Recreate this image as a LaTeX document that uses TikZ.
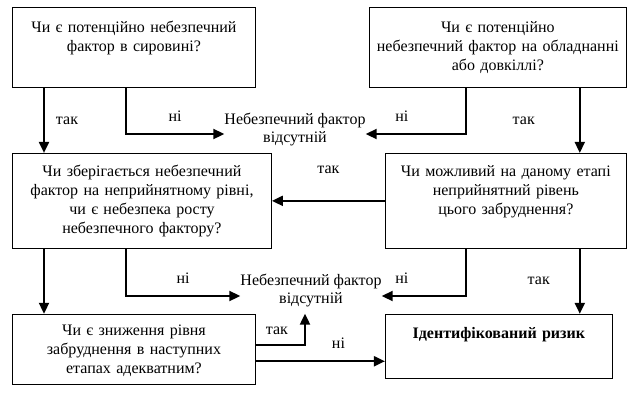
\documentclass[tikz,border=0pt]{standalone}
\usepackage{fontspec}
\setmainfont{Liberation Serif}
\usepackage{tikz}
\usetikzlibrary{arrows.meta, positioning}

\newcommand{\boxfont}{\fontsize{16}{19}\selectfont}

\begin{document}
\begin{tikzpicture}[node distance=65pt, >={Triangle[length=11pt, width=10pt]}]
    \tikzset{question/.style = {rectangle, draw, line width=0.9pt, align=center, inner xsep=2pt, inner ysep=4pt, text height=20pt, font=\boxfont}}
    \tikzset{absent/.style = {align=center, inner sep=0pt, font=\fontsize{16}{18}\selectfont}}
    \tikzset{answer/.style = {inner sep=2pt, font=\boxfont}}
    \tikzset{arrow/.style = {draw, ->, line width=2pt}}

    \useasboundingbox (0,0) rectangle (627pt,-400pt);

    % Questions
    \node [question, text width=239pt, text height=21pt, text depth=51pt, anchor=north west] (raw) at (12pt,-7pt) {Чи є потенційно небезпечний\\фактор в сировині?};
    \node [question, text width=253pt, text height=21pt, text depth=51pt, right=113pt of raw.north east, anchor=north west] (equip) {Чи є потенційно\\небезпечний фактор на обладнанні\\або довкіллі?};
    \node [question, text width=255pt, text height=19.5pt, text depth=67.5pt, below=of raw.south west, anchor=north west] (hold) {Чи зберігається небезпечний\\фактор на неприйнятному рівні,\\чи є небезпека росту\\небезпечного фактору?};
    \node [question, text width=237pt, text height=19.5pt, text depth=67.5pt, below=of equip.south east, anchor=north east] (level) {Чи можливий на даному етапі\\неприйнятний рівень\\цього забруднення?};
    \node [question, text width=239pt, text height=17pt, text depth=45pt, below=of hold.south west, anchor=north west] (adeq) {Чи є зниження рівня\\забруднення в наступних\\етапах адекватним?};
    \node [question, text width=223pt, text height=20pt, text depth=36pt, below=of level.south west, anchor=north west] (risk) {\bfseries Ідентифікований ризик};

    % Results
    \node [absent] (none1) at (295pt,-129pt) {Небезпечний фактор\\відсутній};
    \node [absent] (none2) at (311pt,-290pt) {Небезпечний фактор\\відсутній};

    % Connections
    \draw [arrow] ([xshift=32pt]raw.south west) -- node [answer, right=9pt] {так} ([xshift=32pt]hold.north west);
    \draw [arrow] ([xshift=114pt]raw.south west) |- node [answer, pos=0.75, above=10pt] {ні} ([yshift=-5pt]none1.west);
    \draw [arrow] ([xshift=97pt]equip.south west) |- node [answer, pos=0.82, above=10pt] {ні} ([yshift=-5pt]none1.east);
    \draw [arrow] ([xshift=-47pt]equip.south east) -- node [answer, left=42pt] {так} ([xshift=-47pt]level.north east);
    \draw [arrow] (level.west) -- node [answer, above=24pt] {так} (hold.east);
    \draw [arrow] ([xshift=114pt]hold.south west) |- node [answer, pos=0.75, above=10pt] {ні} ([yshift=-6pt]none2.west);
    \draw [arrow] ([xshift=81pt]level.south west) |- node [answer, pos=0.88, above=10pt] {ні} ([yshift=-6pt]none2.east);
    \draw [arrow] ([xshift=-47pt]level.south east) -- node [answer, left=27pt] {так} ([xshift=-47pt]level.south east |- risk.north);
    \draw [arrow] ([xshift=32pt]hold.south west) -- ([xshift=32pt]adeq.north west);
    \draw [arrow] ([yshift=4pt]adeq.east) -| node [answer, pos=0.5, above left=8pt and 14pt] {так} ([xshift=-6pt, yshift=-7pt]none2.south);
    \draw [arrow] ([yshift=-12pt]adeq.east) -- node [answer, pos=0.64, above=10pt] {ні} ([yshift=-12pt]adeq.east -| risk.west);
\end{tikzpicture}
\end{document}
